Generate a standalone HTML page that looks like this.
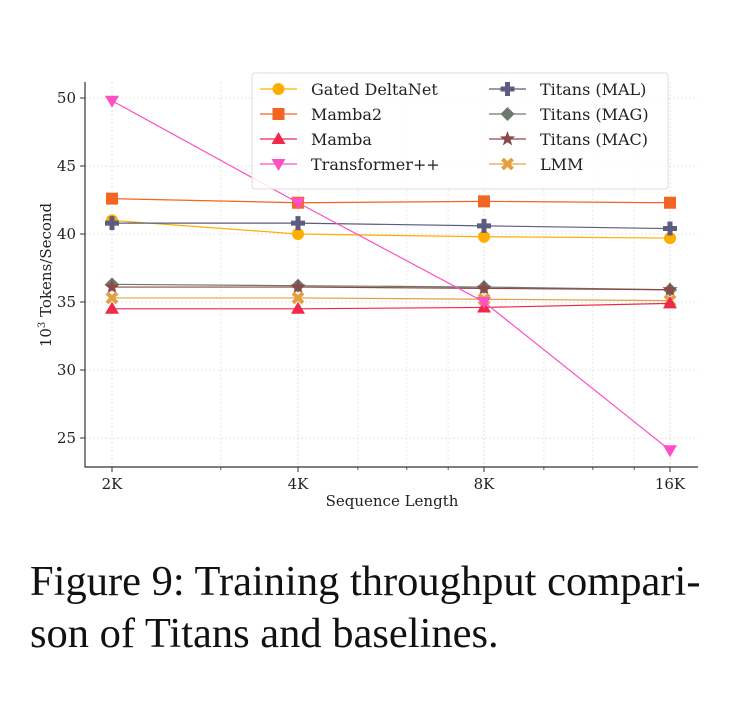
<!DOCTYPE html>
<html><head><meta charset="utf-8"><style>
body{margin:0;background:#fff;width:751px;height:727px;overflow:hidden;position:relative}
svg{position:absolute;left:0;top:0}
.cap{position:absolute;left:30px;top:556px;font-family:"Liberation Serif",serif;font-size:42.5px;line-height:52px;color:#111;white-space:nowrap}
</style></head><body>
<svg id="chart" width="751" height="540"></svg>
<div class="cap">Figure 9: Training throughput compari-<br>son of Titans and baselines.</div>
<script>
const categories=["2K","4K","8K","16K"];
const catValues=[2,4,8,16];
const yTicks=[25,30,35,40,45,50];
const seriesNames=["Gated DeltaNet","Mamba2","Mamba","Transformer++","Titans (MAL)","Titans (MAG)","Titans (MAC)","LMM"];
const gatedDeltaNet=[41.0,40.0,39.8,39.7];
const mamba2=[42.6,42.3,42.4,42.3];
const mamba=[34.5,34.5,34.6,34.9];
const transformerPP=[49.8,42.3,35.0,24.1];
const titansMAL=[40.8,40.8,40.6,40.4];
const titansMAG=[36.3,36.2,36.1,35.9];
const titansMAC=[36.1,36.1,36.0,35.9];
const lmm=[35.3,35.3,35.2,35.1];

const svg=document.getElementById('chart');
const NS='http://www.w3.org/2000/svg';
function mk(t,a,p){const e=document.createElementNS(NS,t);for(const k in a)e.setAttribute(k,a[k]);(p||svg).appendChild(e);return e;}
const L=85,R=698,T=82,B=467;
function xs(v){return 112+186*Math.log2(v/2);}
function ys(v){return 438-(v-25)*13.6;}

for(const m of [3,5,6,7,10,12,14]){const g=mk('line',{x1:xs(m),x2:xs(m),y1:T,y2:B,stroke:'#e4e4e4','stroke-dasharray':'2,2','stroke-width':0.8});

mk('line',{x1:xs(m),x2:xs(m),y1:B,y2:B+3,stroke:'#333','stroke-width':0.8});}
categories.forEach((c,i)=>{const x=xs(catValues[i]);
const g=mk('line',{x1:x,x2:x,y1:T,y2:B,stroke:'#ddd','stroke-dasharray':'2,2','stroke-width':0.8});

mk('line',{x1:x,x2:x,y1:B,y2:B+5,stroke:'#333'});
const t=mk('text',{x:x,y:B+22,'text-anchor':'middle','font-family':'DejaVu Serif, serif','font-size':15,fill:'#222'});t.textContent=c;
});
yTicks.forEach(v=>{const y=ys(v);
const g=mk('line',{x1:L,x2:R,y1:y,y2:y,stroke:'#ddd','stroke-dasharray':'2,2','stroke-width':0.8});

mk('line',{x1:L-5,x2:L,y1:y,y2:y,stroke:'#333'});
const t=mk('text',{x:L-9,y:y+5,'text-anchor':'end','font-family':'DejaVu Serif, serif','font-size':15,fill:'#222'});t.textContent=v;
});
const ax=mk('path',{d:`M${L},${T} V${B} H${R}`,fill:'none',stroke:'#333','stroke-width':1.2});

const xl=mk('text',{x:392,y:506,'text-anchor':'middle','font-family':'DejaVu Serif, serif','font-size':15,fill:'#222'});xl.textContent='Sequence Length';

const yl=mk('text',{transform:'translate(51,275) rotate(-90)','text-anchor':'middle','font-family':'DejaVu Serif, serif','font-size':15,fill:'#222'});
yl.innerHTML='10<tspan dy="-6" font-size="10">3</tspan><tspan dy="6"> Tokens/Second</tspan>';


function marker(g,type,x,y,col){
 if(type==='circle')mk('circle',{cx:x,cy:y,r:6,fill:col},g);
 else if(type==='square')mk('rect',{x:x-6,y:y-6,width:12,height:12,fill:col},g);
 else if(type==='tri')mk('polygon',{points:`${x},${y-7} ${x+7},${y+5} ${x-7},${y+5}`,fill:col},g);
 else if(type==='vtri')mk('polygon',{points:`${x},${y+7} ${x+7},${y-5} ${x-7},${y-5}`,fill:col},g);
 else if(type==='plus')mk('path',{d:`M${x-2.5},${y-7}h5v4.5h4.5v5h-4.5v4.5h-5v-4.5h-4.5v-5h4.5z`,fill:col},g);
 else if(type==='diamond')mk('polygon',{points:`${x},${y-7} ${x+7},${y} ${x},${y+7} ${x-7},${y}`,fill:col},g);
 else if(type==='star'){let p=[];for(let i=0;i<10;i++){const r=i%2?3.3:8,a=-Math.PI/2+i*Math.PI/5;p.push((x+r*Math.cos(a)).toFixed(1)+','+(y+r*Math.sin(a)).toFixed(1));}mk('polygon',{points:p.join(' '),fill:col},g);}
 else if(type==='x')mk('path',{d:`M${x-5},${y-5}L${x+5},${y+5}M${x+5},${y-5}L${x-5},${y+5}`,stroke:col,'stroke-width':4},g);
}
const seriesData=[gatedDeltaNet,mamba2,mamba,transformerPP,titansMAL,titansMAG,titansMAC,lmm];
const colors=['#ffad00','#f26522','#f0284a','#ff4fc4','#5c5c80','#6b7a6b','#8b4a4a','#e3a040'];
const marks=['circle','square','tri','vtri','plus','diamond','star','x'];
const order=[1,0,4,5,6,7,2,3];
order.forEach(i=>{const g=mk('g',{});


const d=seriesData[i];
mk('polyline',{points:d.map((v,j)=>xs(catValues[j])+','+ys(v)).join(' '),fill:'none',stroke:colors[i],'stroke-width':1.2},g);
d.forEach((v,j)=>marker(g,marks[i],xs(catValues[j]),ys(v),colors[i]));});

const lg=mk('g',{});
mk('rect',{x:252,y:73,width:416,height:116,rx:3,fill:'rgba(255,255,255,0.85)',stroke:'#ddd'},lg);
seriesNames.forEach((n,i)=>{const col=i<4?0:1,row=i%4;const x0=col?489:260,y=89+row*25;
const e=mk('g',{},lg);
mk('line',{x1:x0,x2:x0+37,y1:y,y2:y,stroke:colors[i],'stroke-width':1.2},e);
marker(e,marks[i],x0+18.5,y,colors[i]);
const t=mk('text',{x:x0+51,y:y+6,'font-family':'DejaVu Serif, serif','font-size':16,fill:'#222'},e);t.textContent=n;});
</script>
</body></html>
